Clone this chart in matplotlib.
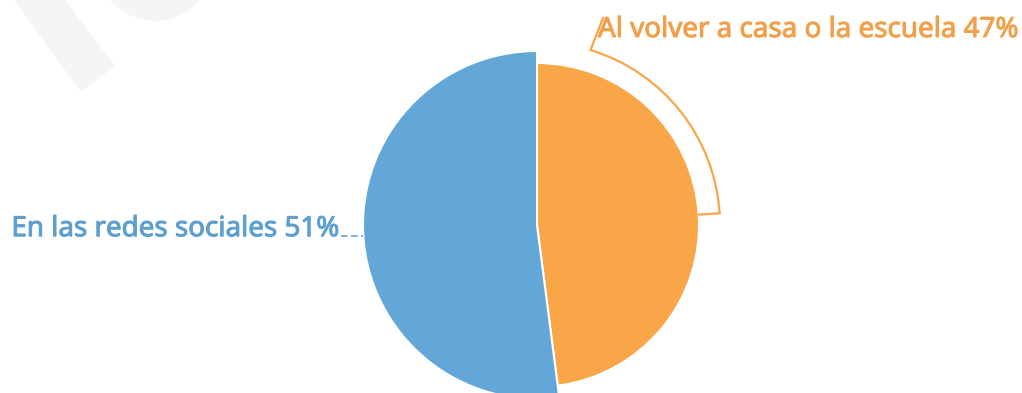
import numpy as np
import matplotlib.pyplot as plt
import matplotlib.patheffects as pe
from matplotlib.patches import Polygon, Wedge, Arc

# where students report it happens
labels = ['Al volver a casa o la escuela', 'En las redes sociales']
shares = [47, 51]
colors = ['#F8A648', '#62A7D8']
text_colors = ['#F0A04A', '#5D9FD0']

W, H = 1022, 393
fig = plt.figure(figsize=(W / 100, H / 100), dpi=100)
ax = fig.add_axes([0, 0, 1, 1])

# pixel scale: 174 px per unit radius, pie centre at (537, 225)
s = 174.0
cx, cy = 537, 225

wedges, _ = ax.pie(shares, colors=colors, startangle=90, counterclock=False,
                   radius=1.0, center=(0, 0),
                   wedgeprops=dict(edgecolor='white', linewidth=1.5))
# orange slice sits a bit smaller than the blue one
r_orange = 162 / s
wedges[0].set_radius(r_orange)

ax.set_xlim(-cx / s, (W - cx) / s)
ax.set_ylim(-(H - cy) / s, cy / s)
ax.set_aspect('equal')
ax.axis('off')

# faint watermark in the corner
wm = '#F5F5F5'
fig.patches.append(Polygon([(15 / W, 1), (64 / W, 1), (114 / W, 1 - 66 / H), (81 / W, 1 - 91 / H)],
                           closed=True, transform=fig.transFigure, color=wm, zorder=0))
ax.add_patch(Wedge(((155 - cx) / s, (cy + 38) / s), 58 / s, 190, 350, width=27 / s, color=wm, zorder=0))

total = sum(shares)
mid_orange = 90 - shares[0] / total * 360 / 2
mid_blue = 90 - shares[0] / total * 360 - shares[1] / total * 360 / 2

# orange leader: radial tick out, arc round the slice, then up to the label
r_arc = 183 / s
a_end = 73
t = np.radians(mid_orange)
ax.plot([r_orange * np.cos(t), r_arc * np.cos(t)], [r_orange * np.sin(t), r_arc * np.sin(t)],
        color=colors[0], lw=1.6)
ax.add_patch(Arc((0, 0), 2 * r_arc, 2 * r_arc, theta1=mid_orange, theta2=a_end,
                 color=colors[0], lw=1.6))
ta = np.radians(a_end)
lx, ly = (603 - cx) / s, (cy - 18) / s
ax.plot([r_arc * np.cos(ta), lx], [r_arc * np.sin(ta), ly], color=colors[0], lw=1.6)

# slightly heavier strokes on the labels
def heavy(c):
    return [pe.Stroke(linewidth=0.7, foreground=c), pe.Normal()]

ax.text((598 - cx) / s, (cy - 37) / s, f'{labels[0]} {shares[0]}%', color=text_colors[0],
        fontsize=20, family='Noto Sans', ha='left', va='baseline',
        path_effects=heavy(text_colors[0]))

# blue leader: short dashed stub to the left
tb = np.radians(mid_blue)
yb = np.sin(tb)
ax.plot([(341 - cx) / s, np.cos(tb)], [yb, yb], color=colors[1], lw=1.2, linestyle=(0, (4, 2)))
ax.text((339 - cx) / s, yb, f'{labels[1]} {shares[1]}%', color=text_colors[1],
        fontsize=20, family='Noto Sans', ha='right', va='baseline',
        path_effects=heavy(text_colors[1]))

fig.savefig('out.png', dpi=100)
